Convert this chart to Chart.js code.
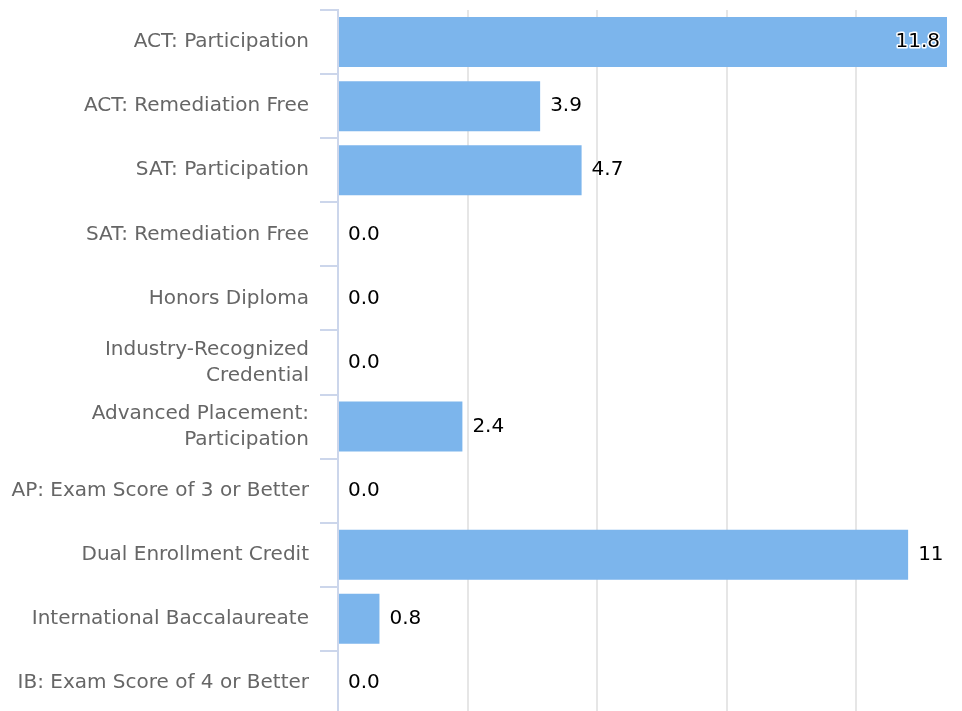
<!DOCTYPE html>
<html>
<head>
<meta charset="utf-8">
<title>Readiness indicators</title>
<script src="https://cdn.jsdelivr.net/npm/chart.js@4.4.1/dist/chart.umd.min.js"></script>
<style>
  html, body { margin: 0; padding: 0; background: #fff; overflow: hidden; }
  canvas { display: block; }
</style>
</head>
<body>
<canvas id="chart" width="962" height="715"></canvas>
<script>
// categories + values
const categories = [
  'ACT: Participation',
  'ACT: Remediation Free',
  'SAT: Participation',
  'SAT: Remediation Free',
  'Honors Diploma',
  ['Industry-Recognized', 'Credential'],
  ['Advanced Placement:', 'Participation'],
  'AP: Exam Score of 3 or Better',
  'Dual Enrollment Credit',
  'International Baccalaureate',
  'IB: Exam Score of 4 or Better'
];
const values = [11.8, 3.9, 4.7, 0, 0, 0, 2.4, 0, 11, 0.8, 0];
const valueLabels = ['11.8', '3.9', '4.7', '0.0', '0.0', '0.0', '2.4', '0.0', '11', '0.8', '0.0'];

// value axis (no labels shown, only grid lines)
const X_MAX = 11.75;
const X_STEP = 2.5;

const FONT = "'DejaVu Sans', Verdana, sans-serif";

// data labels drawn next to bar end (or inside if it does not fit)
const barLabels = {
  id: 'barLabels',
  afterDatasetsDraw(chart) {
    const ctx = chart.ctx;
    const area = chart.chartArea;
    const meta = chart.getDatasetMeta(0);
    ctx.save();
    ctx.font = '20px ' + FONT;
    ctx.textBaseline = 'middle';
    meta.data.forEach((bar, i) => {
      const txt = valueLabels[i];
      const w = ctx.measureText(txt).width;
      let x = Math.min(bar.x, area.right) + 10;
      if (x + w > area.right) {
        // doesn't fit -> put it inside, right aligned, with white outline
        ctx.textAlign = 'right';
        x = area.right - 7;
        ctx.lineWidth = 3;
        ctx.lineJoin = 'round';
        ctx.strokeStyle = '#ffffff';
        ctx.strokeText(txt, x, bar.y);
      } else {
        ctx.textAlign = 'left';
      }
      ctx.fillStyle = '#000000';
      ctx.fillText(txt, x, bar.y);
    });
    ctx.restore();
  }
};

new Chart(document.getElementById('chart'), {
  type: 'bar',
  data: {
    labels: categories,
    datasets: [{
      data: values,
      backgroundColor: '#7cb5ec',
      borderWidth: 0,
      categoryPercentage: 1,
      barPercentage: 0.78,
      clip: 0
    }]
  },
  options: {
    indexAxis: 'y',
    responsive: false,
    animation: false,
    layout: { padding: { top: 10, right: 15, bottom: 0, left: 0 } },
    plugins: {
      legend: { display: false },
      tooltip: { enabled: false }
    },
    scales: {
      x: {
        min: 0,
        max: X_MAX,
        border: { display: false },
        grid: { color: '#e6e6e6', lineWidth: 2, drawTicks: false },
        ticks: { display: false, stepSize: X_STEP, includeBounds: false }
      },
      y: {
        offset: true,
        border: { display: true, color: '#ccd6eb', width: 2 },
        grid: {
          offset: true,
          drawOnChartArea: false,
          color: '#ccd6eb',
          lineWidth: 2,
          tickLength: 18
        },
        ticks: {
          color: '#666666',
          padding: 11,
          font: { family: FONT, size: 20, lineHeight: 26 / 20 }
        },
        afterFit(scale) {
          scale.width = 338;
          scale.paddingTop = 0;
          scale.paddingBottom = 0;
        }
      }
    }
  },
  plugins: [barLabels]
});
</script>
</body>
</html>
